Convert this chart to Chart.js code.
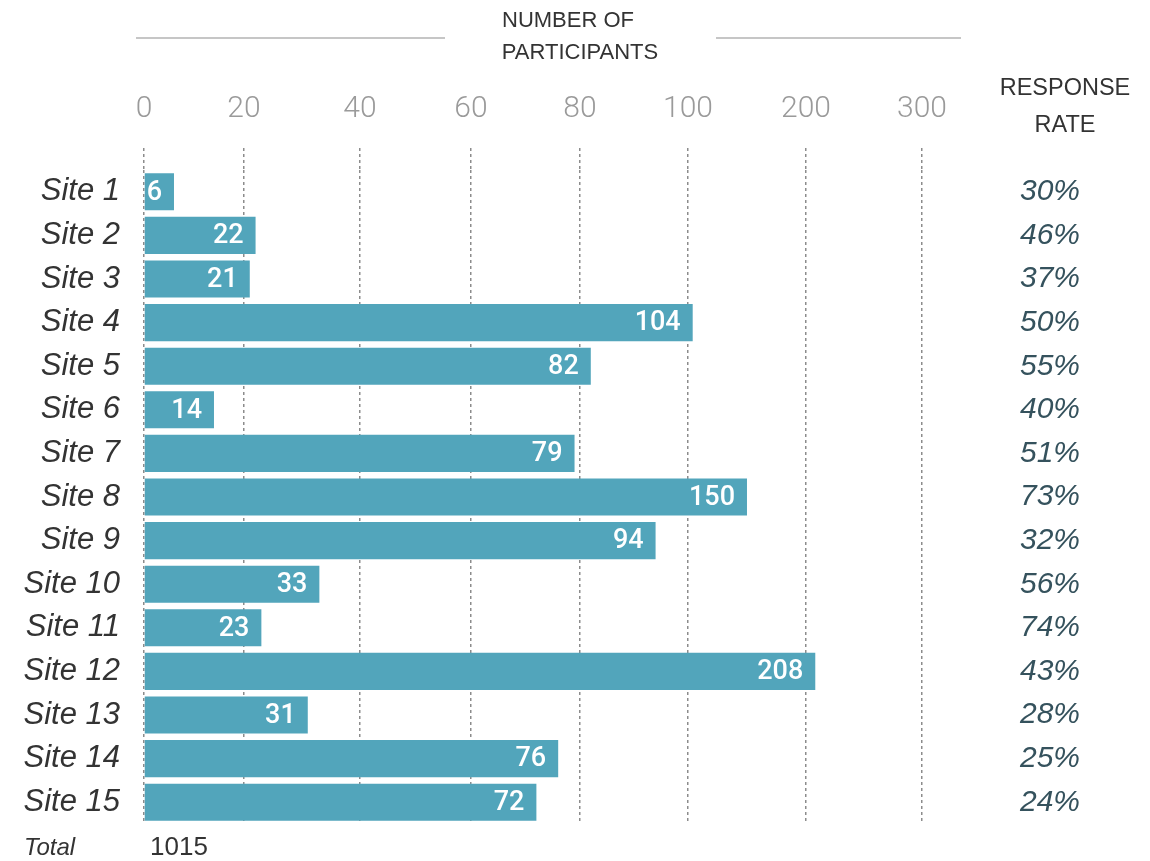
<!DOCTYPE html>
<html>
<head>
<meta charset="utf-8">
<title>Participants by site</title>
<script src="https://cdn.jsdelivr.net/npm/chart.js@4.4.1/dist/chart.umd.min.js"></script>
<style>
  html, body { margin: 0; padding: 0; background: #ffffff; }
  #wrap { width: 1150px; height: 861px; position: relative; }
</style>
</head>
<body>
<div id="wrap"><canvas id="chart" width="1150" height="861"></canvas></div>
<script>
// ---- data ----
const sites = ['Site 1', 'Site 2', 'Site 3', 'Site 4', 'Site 5', 'Site 6', 'Site 7', 'Site 8',
               'Site 9', 'Site 10', 'Site 11', 'Site 12', 'Site 13', 'Site 14', 'Site 15'];
const participants = [6, 22, 21, 104, 82, 14, 79, 150, 94, 33, 23, 208, 31, 76, 72];
const responseRates = ['30%', '46%', '37%', '50%', '55%', '40%', '51%', '73%',
                       '32%', '56%', '74%', '43%', '28%', '25%', '24%'];
const axisTicks = [0, 20, 40, 60, 80, 100, 200, 300];

const totalParticipants = participants.reduce((a, b) => a + b, 0);

// ---- a linear axis split into segments: each tick sits at its own fraction of the width ----
class SegmentedScale extends Chart.LinearScale {
  buildTicks() {
    return this.options.breaks.map(v => ({ value: v }));
  }
  _decimalFor(value) {
    const b = this.options.breaks, s = this.options.stops;
    if (value <= b[0]) return s[0];
    for (let i = 0; i < b.length - 1; i++) {
      if (value <= b[i + 1]) {
        return s[i] + (value - b[i]) / (b[i + 1] - b[i]) * (s[i + 1] - s[i]);
      }
    }
    const n = b.length - 1;
    return s[n] + (value - b[n]) / (b[n] - b[n - 1]) * (s[n] - s[n - 1]);
  }
  getPixelForValue(value) {
    if (value === null || isNaN(value)) return NaN;
    return this.getPixelForDecimal(this._decimalFor(value));
  }
  getValueForPixel(pixel) {
    const d = this.getDecimalForPixel(pixel);
    const b = this.options.breaks, s = this.options.stops;
    for (let i = 0; i < b.length - 1; i++) {
      if (d <= s[i + 1]) return b[i] + (d - s[i]) / (s[i + 1] - s[i]) * (b[i + 1] - b[i]);
    }
    return b[b.length - 1];
  }
}
SegmentedScale.id = 'segmented';
SegmentedScale.defaults = {};
Chart.register(SegmentedScale);

const TEXT_DARK = '#333333';
const RATE_COLOR = '#35525d';
const GRID_COLOR = '#8c8c8c';

// fixed width for a side axis; its label padding must not reserve extra room above/below the plot
function sideAxisWidth(width) {
  return (scale) => {
    scale.width = width;
    scale.paddingTop = 0;
    scale.paddingBottom = 0;
  };
}

// ---- header texts, value labels inside bars and the total row ----
const annotations = {
  id: 'annotations',
  afterDatasetsDraw(chart) {
    const ctx = chart.ctx;
    const area = chart.chartArea;
    const meta = chart.getDatasetMeta(0);
    ctx.save();

    // values at the end of each bar
    ctx.font = '500 27px Roboto';
    ctx.fillStyle = '#ffffff';
    ctx.textAlign = 'right';
    ctx.textBaseline = 'middle';
    meta.data.forEach((bar, i) => {
      ctx.fillText(String(participants[i]), bar.x - 12, bar.y + 1);
    });

    // axis heading with rules either side
    ctx.fillStyle = TEXT_DARK;
    ctx.font = '22px "Liberation Sans"';
    ctx.textAlign = 'center';
    ctx.fillText('NUMBER OF', 568, 21);
    ctx.fillText('PARTICIPANTS', 580, 53);
    ctx.strokeStyle = '#b4b4b4';
    ctx.lineWidth = 1.5;
    ctx.beginPath();
    ctx.moveTo(136, 38); ctx.lineTo(445, 38);
    ctx.moveTo(716, 38); ctx.lineTo(961, 38);
    ctx.stroke();

    // response rate heading
    ctx.font = '23.5px "Liberation Sans"';
    ctx.fillText('RESPONSE', 1065, 89);
    ctx.fillText('RATE', 1065, 126);

    // total row
    ctx.textAlign = 'left';
    ctx.font = 'italic 24px "Liberation Sans"';
    ctx.fillText('Total', 24, area.bottom + 24);
    ctx.font = '26px "Liberation Sans"';
    ctx.fillText(String(totalParticipants), area.left + 6, area.bottom + 24);

    ctx.restore();
  }
};

new Chart(document.getElementById('chart'), {
  type: 'bar',
  data: {
    labels: sites,
    datasets: [{
      data: participants,
      backgroundColor: '#52a5bb',
      borderWidth: 0,
      categoryPercentage: 1,
      barPercentage: 0.85
    }]
  },
  plugins: [annotations],
  options: {
    indexAxis: 'y',
    responsive: false,
    animation: false,
    layout: { padding: { top: 0, right: 0, bottom: 37, left: 0 } },
    plugins: {
      legend: { display: false },
      tooltip: { enabled: false },
      title: { display: false }
    },
    scales: {
      x: {
        type: 'segmented',
        position: 'top',
        min: 0,
        max: 300,
        breaks: axisTicks,
        stops: [0, 0.1285, 0.2776, 0.4203, 0.5604, 0.6992, 0.8509, 1],
        afterFit(scale) { scale.height = 170; },
        grid: {
          color: GRID_COLOR,
          lineWidth: 1.5,
          drawTicks: true,
          tickLength: 22,
          tickColor: GRID_COLOR,
          tickWidth: 1.5,
          tickBorderDash: [3, 3]
        },
        border: { display: false, dash: [3, 3] },
        ticks: {
          color: '#9a9a9a',
          font: { family: 'Roboto', size: 30, weight: '300' },
          padding: 21,
          maxRotation: 0,
          autoSkip: false,
          callback: (v) => String(v)
        }
      },
      y: {
        type: 'category',
        position: 'left',
        offset: true,
        afterFit: sideAxisWidth(144),
        grid: { display: false, drawTicks: false },
        border: { display: false },
        ticks: {
          color: TEXT_DARK,
          font: { family: 'Liberation Sans', size: 31, style: 'italic' },
          padding: 24,
          autoSkip: false
        }
      },
      rate: {
        type: 'category',
        position: 'right',
        labels: responseRates,
        offset: true,
        afterFit: sideAxisWidth(228),
        grid: { display: false, drawTicks: false },
        border: { display: false },
        ticks: {
          color: RATE_COLOR,
          font: { family: 'Liberation Sans', size: 30, style: 'italic' },
          padding: 98,
          crossAlign: 'near',
          autoSkip: false
        }
      }
    }
  }
});
</script>
</body>
</html>
